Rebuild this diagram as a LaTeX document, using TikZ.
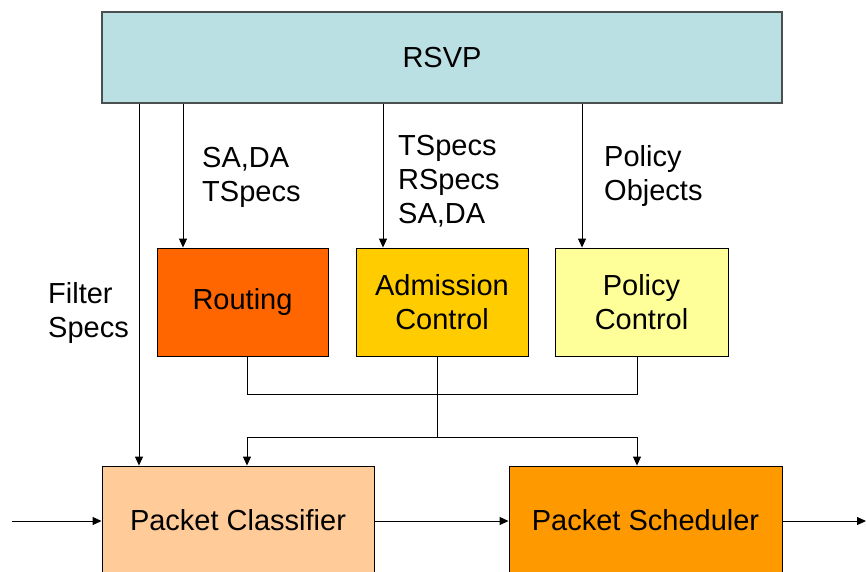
\documentclass[tikz,border=0pt]{standalone}
\usepackage{fontspec}
\setmainfont{Liberation Sans}
\usetikzlibrary{arrows.meta}

\definecolor{rsvpfill}{HTML}{BBE0E3}
\definecolor{routefill}{HTML}{FF6600}
\definecolor{admitfill}{HTML}{FFCC00}
\definecolor{policyfill}{HTML}{FFFF99}
\definecolor{classfill}{HTML}{FFCC99}
\definecolor{schedfill}{HTML}{FF9900}
\definecolor{rsvpedge}{HTML}{4A5050}

\tikzset{
  blk/.style={draw=black, line width=0.9pt, rectangle, inner sep=0pt,
    align=center, font=\fontsize{29}{34}\selectfont},
  lbl/.style={anchor=north west, inner sep=0pt, align=left,
    font=\fontsize{29}{34}\selectfont},
  arr/.style={line width=1pt, -{Triangle[length=9pt,width=8pt]}},
  wire/.style={line width=1pt}
}

\begin{document}
\begin{tikzpicture}[x=1pt,y=-1pt]
  \useasboundingbox (0,0) rectangle (866,571);
  \clip (0,0) rectangle (866,571);

  % top protocol block
  \node[blk, draw=rsvpedge, line width=1.8pt, fill=rsvpfill,
        minimum width=680pt, minimum height=91pt] (rsvp) at (442,57.5) {RSVP};

  % middle control blocks
  \node[blk, fill=routefill, minimum width=171pt, minimum height=108pt]
    (routing) at (242.5,302) {Routing};
  \node[blk, fill=admitfill, minimum width=172pt, minimum height=108pt]
    (admission) at (442,302) {Admission\\Control};
  \node[blk, fill=policyfill, minimum width=173pt, minimum height=108pt]
    (policy) at (641.5,302) {Policy\\Control};

  % data path blocks
  \node[blk, fill=classfill, minimum width=272pt, minimum height=108pt]
    (classifier) at (238,520) {Packet Classifier};
  \node[blk, fill=schedfill, minimum width=273pt, minimum height=108pt]
    (scheduler) at (645.5,520) {Packet Scheduler};

  % labels on the control arrows
  \node[lbl] (lfilter) at (48,282) {Filter\\Specs};
  \node[lbl] (lroute) at (202,147) {SA,DA\\TSpecs};
  \node[lbl] (ladmit) at (398,135) {TSpecs\\RSpecs\\SA,DA};
  \node[lbl] (lpolicy) at (604,145) {Policy\\Objects};

  % arrows from RSVP down to the blocks
  \draw[arr] (rsvp.south -| 139,0) -- (classifier.north -| 139,0);
  \draw[arr] (rsvp.south -| 183,0) -- (routing.north -| 183,0);
  \draw[arr] (rsvp.south -| 383,0) -- (admission.north -| 383,0);
  \draw[arr] (rsvp.south -| 582,0) -- (policy.north -| 582,0);

  % merge of the control outputs
  \coordinate (j1) at (437,394);
  \coordinate (j2) at (437,437);
  \draw[wire] (routing.south -| 247,0) |- (j1) -| (policy.south -| 637,0);
  \draw[wire] (admission.south -| j1) -- (j2);
  \draw[arr] (j2) -| (classifier.north -| 247,0);
  \draw[arr] (j2) -| (scheduler.north -| 637,0);

  % packet flow
  \coordinate (pin) at (12,521);
  \coordinate (pout) at (866,521);
  \draw[arr] (pin) -- (classifier.west |- pin);
  \draw[arr] (classifier.east |- pin) -- (scheduler.west |- pin);
  \draw[arr] (scheduler.east |- pin) -- (pout);
\end{tikzpicture}
\end{document}
